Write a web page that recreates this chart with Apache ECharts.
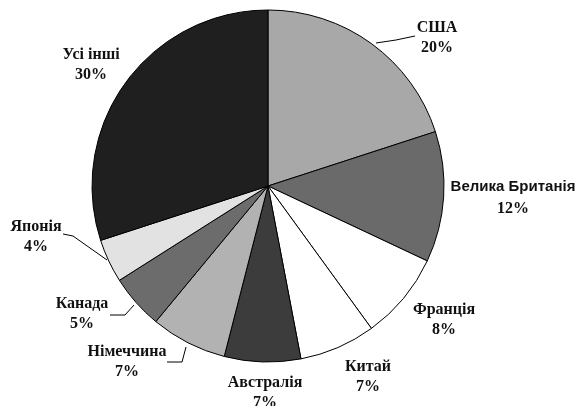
<!DOCTYPE html>
<html>
<head>
<meta charset="utf-8">
<script src="https://cdn.jsdelivr.net/npm/echarts@6/dist/echarts.min.js"></script>
<style>
  html, body { margin: 0; padding: 0; background: #fff; }
  #chart { width: 578px; height: 406px; }
</style>
</head>
<body>
<div id="chart"></div>
<script>
// країни та частки (%)
var countries = ['США', 'Велика Британія', 'Франція', 'Китай', 'Австралія', 'Німеччина', 'Канада', 'Японія', 'Усі інші']
var shares = [20, 12, 8, 7, 7, 7, 5, 4, 30]

var fills = ['#a8a8a8', '#6a6a6a', '#ffffff', '#ffffff', '#3c3c3c', '#b2b2b2', '#6c6c6c', '#e2e2e2', '#1f1f1f']

// де стоять підписи (центр блоку) і лінії-виноски
var labelPos = [
  [437, 38], [513, 198], [444, 320], [368, 377], [265, 393],
  [127, 362], [82, 314], [36, 237], [91, 65]
]
var leaders = {
  0: [[376, 43], [396, 40], [415, 36]],
  5: [[186, 347], [182, 362], [167, 362]],
  6: [[134, 305], [125, 315], [110, 315]],
  7: [[107, 260], [73, 236], [63, 234]]
}

var chart = echarts.init(document.getElementById('chart'))

var serif = { fontFamily: 'Liberation Serif', fontWeight: 'bold', fontSize: 16, lineHeight: 20, color: '#111' }

var data = countries.map(function (name, i) {
  var item = {
    name: name,
    value: shares[i],
    itemStyle: { color: fills[i] },
    labelLine: { show: leaders[i] !== undefined }
  }
  if (i === 1) {
    item.label = {
      rich: {
        n: { fontFamily: 'Liberation Sans', fontWeight: 'bold', fontSize: 15, lineHeight: 22, color: '#111' },
        p: Object.assign({}, serif, { lineHeight: 22 })
      }
    }
  }
  return item
})

chart.setOption({
  animation: false,
  series: [{
    type: 'pie',
    center: [268, 186],
    radius: 176,
    startAngle: 90,
    clockwise: true,
    itemStyle: { borderColor: '#000', borderWidth: 1 },
    emphasis: { disabled: true },
    label: {
      show: true,
      position: 'outside',
      overflow: 'none',
      formatter: function (p) { return '{n|' + p.name + '}\n{p|' + p.value + '%}' },
      color: '#111',
      align: 'center',
      rich: { n: serif, p: serif }
    },
    labelLine: { lineStyle: { color: '#000', width: 1 } },
    labelLayout: function (params) {
      var pos = labelPos[params.dataIndex]
      var out = { x: pos[0], y: pos[1], align: 'center', verticalAlign: 'middle' }
      if (leaders[params.dataIndex]) out.labelLinePoints = leaders[params.dataIndex]
      return out
    },
    data: data
  }]
})
</script>
</body>
</html>
